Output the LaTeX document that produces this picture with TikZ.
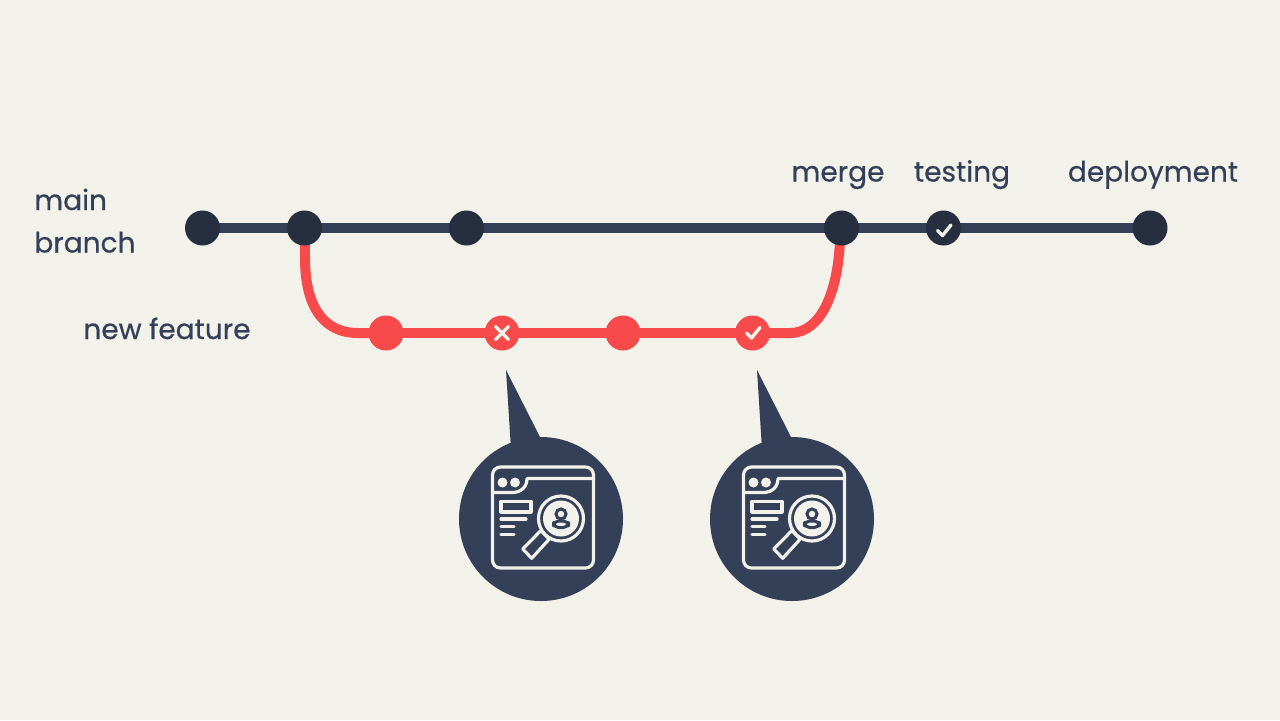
\documentclass[tikz,border=0pt]{standalone}
\usepackage{fontspec}
\setmainfont[RawFeature={embolden=0.5}]{Poppins}
\definecolor{paper}{HTML}{F2F1EA}
\definecolor{slate}{HTML}{343F58}
\definecolor{ink}{HTML}{262E3F}
\definecolor{coral}{HTML}{F84A4A}
\pgfdeclarelayer{paperlayer}
\pgfdeclarelayer{linelayer}
\pgfsetlayers{paperlayer,linelayer,main}
\tikzset{
  label text/.style={text=slate, font=\fontsize{14}{19}\selectfont, inner sep=0pt},
  dot/.style={circle, minimum size=17.5pt, inner sep=0pt},
  main dot/.style={dot, fill=ink},
  side dot/.style={dot, fill=coral},
  main line/.style={draw=slate, line width=5pt},
  side line/.style={draw=coral, line width=5pt},
  mark line/.style={draw=paper, line width=1.7pt, line cap=round, line join=round},
  icon line/.style={draw=paper, line width=1.6pt, line join=round}
}
% one bubble with its window icon, #1 is the centre
\newcommand{\searchbubble}[1]{
  \begin{scope}[shift={(#1)}]
    \fill[slate] (0, 0) circle (82);
    \fill[slate] (-30, -70) -- (-35, -149) -- (-1, -82) -- cycle;
    \draw[icon line, rounded corners=4pt] (-48.5, -52) rectangle (52.5, 49);
    \draw[icon line, line cap=round] (52.5, -40.5) -- (-14, -40.5) .. controls (-14, -32) and (-20, -26.5) .. (-29, -26.5) -- (-48.5, -26.5);
    \fill[paper] (-38.5, -36.5) circle (5);
    \fill[paper] (-26, -36.5) circle (5);
    \draw[icon line] (-40, -17.5) rectangle (-10, -7);
    \draw[icon line, line cap=round] (-40, 0) -- (-15, 0);
    \draw[icon line, line cap=round] (-40, 7.5) -- (-27, 7.5);
    \draw[icon line, line cap=round] (-40, 15.5) -- (-27, 15.5);
    \draw[icon line] (-18.3, 30) -- (-9.3, 39.3) -- (8.3, 20) -- (-0.3, 11.7) -- cycle;
    \draw[icon line, fill=slate] (20, -0.5) circle (22.5);
    \fill[paper] (20, -0.5) circle (18);
    \draw[slate, line width=1.5pt] (20, -5) circle (5);
    \draw[slate, line width=1.5pt, line join=round, rounded corners=2.5pt] (12.5, 8.5) -- (12.5, 2) -- (27.5, 2) -- (27.5, 8.5) -- cycle;
  \end{scope}
}
\begin{document}
\begin{tikzpicture}[x=0.5pt, y=-0.5pt]
  \begin{pgfonlayer}{paperlayer}
    \fill[paper] (0, 0) rectangle (1280, 720);
  \end{pgfonlayer}
  \useasboundingbox (0, 0) rectangle (1280, 720);

  \node[main dot] (start) at (202.5, 228) {};
  \node[main dot] (branch) at (304.5, 228) {};
  \node[main dot] (commit) at (466.5, 228) {};
  \node[main dot] (merge) at (841.5, 228) {};
  \node[main dot] (testing) at (943.5, 228) {};
  \node[main dot] (deploy) at (1150, 228) {};

  \node[side dot] (first) at (386, 333) {};
  \node[side dot] (failed) at (502, 333) {};
  \node[side dot] (third) at (623, 333) {};
  \node[side dot] (passed) at (752.5, 333) {};

  \begin{pgfonlayer}{linelayer}
    \draw[side line] (branch.center) -- (305, 258) .. controls (305, 306) and (323, 333) .. (358, 333) -- (first.center);
    \draw[side line] (first.center) -- (failed.center) -- (third.center) -- (passed.center);
    \draw[side line] (passed.center) -- (790, 333) .. controls (822, 333) and (838, 290) .. (840, 240) -- (merge.center);
    \draw[main line] (start.center) -- (branch.center) -- (commit.center) -- (merge.center) -- (testing.center) -- (deploy.center);
  \end{pgfonlayer}

  \draw[mark line] (failed.center) ++(-6.5, -6.5) -- ++(13, 13);
  \draw[mark line] (failed.center) ++(6.5, -6.5) -- ++(-13, 13);
  \draw[mark line] (passed.center) ++(-6, 0) -- ++(5, 5) -- ++(8.5, -10.5);
  \draw[mark line] (testing.center) ++(-6, 2.5) -- ++(5, 5) -- ++(8.5, -10.5);

  \node[label text, anchor=base west] (mainlabel) at (34, 210) {main};
  \node[label text, anchor=base west] (branchlabel) at (34, 252.5) {branch};
  \node[label text, anchor=base west] (featurelabel) at (83, 339) {new feature};
  \node[label text, anchor=base] (mergelabel) at (838, 181.5) {merge};
  \node[label text, anchor=base] (testinglabel) at (962, 181.5) {testing};
  \node[label text, anchor=base] (deploylabel) at (1153, 181.5) {deployment};

  \searchbubble{541, 519}
  \searchbubble{792, 519}
\end{tikzpicture}
\end{document}
